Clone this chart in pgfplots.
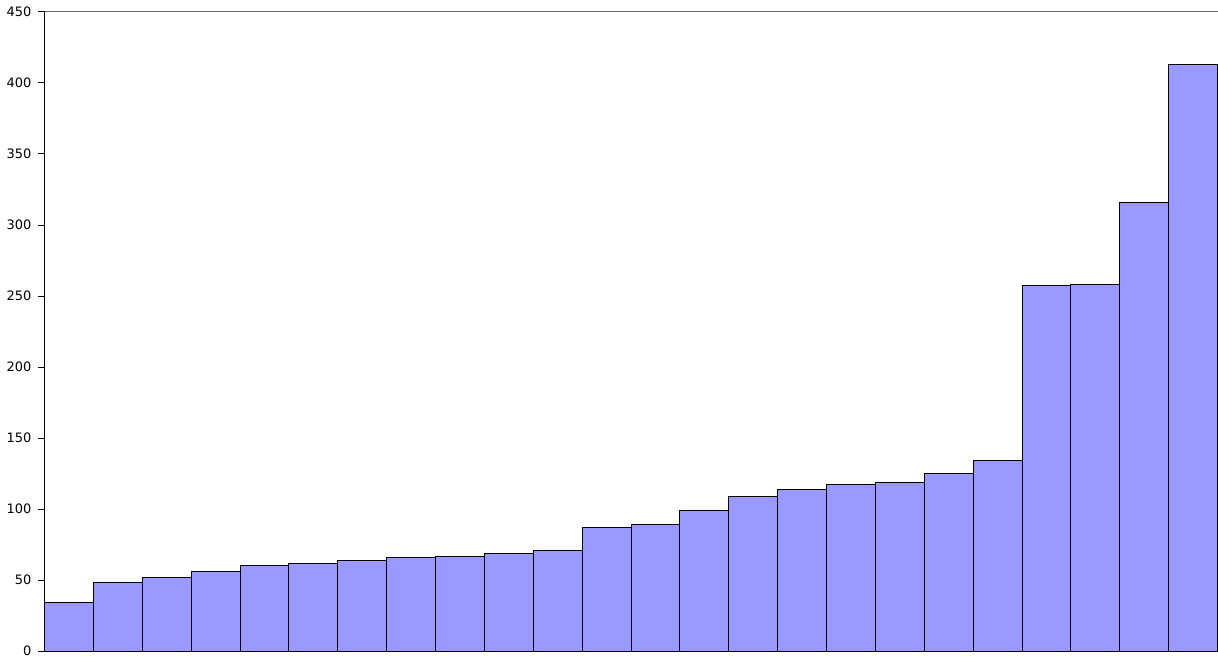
\documentclass[border=0pt]{standalone}
\usepackage{pgfplots}
\pgfplotsset{compat=1.18}
\usepackage{fontspec}
\setmainfont{DejaVu Sans}
\begin{document}
\begin{tikzpicture}
\begin{axis}[
  scale only axis, width=585bp, height=319bp,
  xmin=-0.5, xmax=23.5, ymin=0, ymax=450,
  axis x line=none, axis y line*=left,
  ytick={0,50,...,450}, ytick style={black}, tick align=outside,
  major tick length=3bp,
  /pgf/number format/assume math mode=true,
  yticklabel style={font=\fontsize{6.5}{7}\selectfont},
  ybar, bar width=1, 
  clip=false,
]
\addplot[fill={rgb,255:red,153;green,153;blue,255}, draw=black, line width=0.5bp, bar width=1, bar shift=0] coordinates {
(0,34)(1,48)(2,52)(3,56)(4,60)(5,62)(6,64)(7,66)(8,66.5)(9,69)(10,71)(11,87)(12,89)(13,99)(14,109)(15,114)(16,117)(17,119)(18,125)(19,134)(20,257.5)(21,258)(22,316)(23,413)};
\draw[gray!80!black, line width=0.5bp] (rel axis cs:0,1) -- (rel axis cs:1,1);
\end{axis}
\end{tikzpicture}
\end{document}
